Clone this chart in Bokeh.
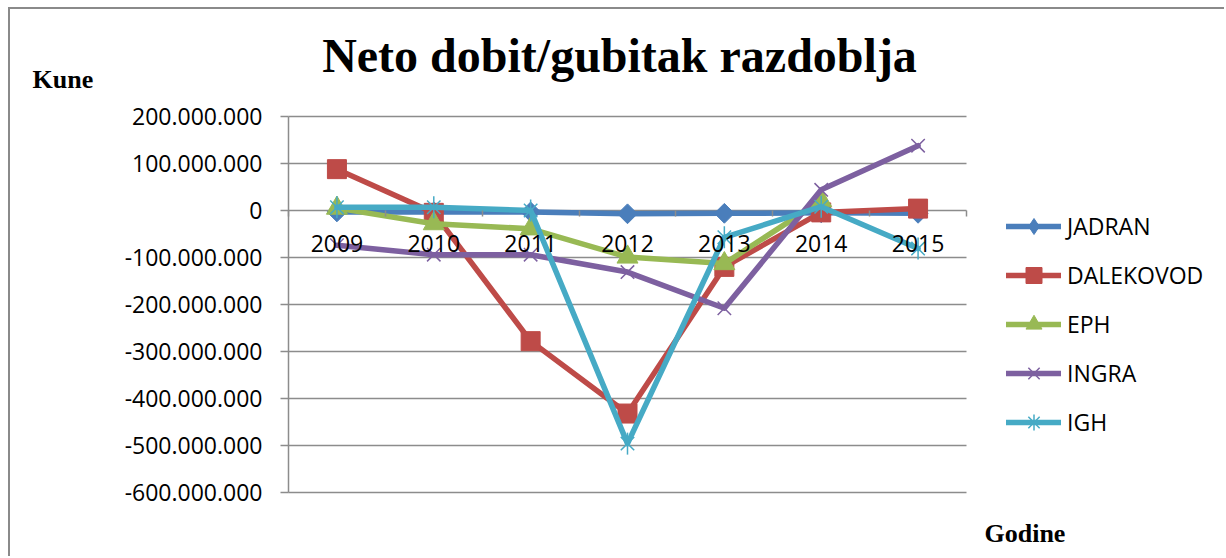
import math
from bokeh.plotting import figure
from bokeh.models import (Range1d, FixedTicker, Legend, LegendItem, Label,
                          ColumnDataSource)
from bokeh.embed import file_html
from bokeh.resources import INLINE

# ---------------- data ----------------
years = ["2009", "2010", "2011", "2012", "2013", "2014", "2015"]
jadran = [-3e6, -3e6, -3e6, -7e6, -6e6, -5e6, -6e6]
dalekovod = [88e6, -5e6, -278e6, -432e6, -120e6, -4e6, 4e6]
eph = [5e6, -28e6, -39e6, -99e6, -113e6, 21e6, float("nan")]
ingra = [-74e6, -94e6, -94e6, -131e6, -208e6, 44e6, 138e6]
igh = [7e6, 7e6, 0, -496e6, -57e6, 8e6, -81e6]
series_names = ["JADRAN", "DALEKOVOD", "EPH", "INGRA", "IGH"]
y_ticks = [-600000000, -500000000, -400000000, -300000000, -200000000,
           -100000000, 0, 100000000, 200000000]
title_text = "Neto dobit/gubitak razdoblja"
y_title = "Kune"
x_title = "Godine"

colors = ["#4A7EBB", "#BE4B48", "#98B954", "#7D60A0", "#46AAC5"]
series = [jadran, dalekovod, eph, ingra, igh]

# ---------------- layout geometry (page pixels) ----------------
OX, OY = 10, 9                 # canvas origin on the page (margin + border)
W, H = 1216, 549
PL, PR, PT, PB = 288, 966, 116, 492   # plot area of the chart
y_lo, y_hi = y_ticks[0], y_ticks[-1]
n = len(years)
bx = (PR - PL) / n                    # px per category band
by = (PB - PT) / (y_hi - y_lo)        # px per unit
x_start = -(PL - OX) / bx
x_end = n + (OX + W - PR) / bx
y_top = y_hi + (PT - OY) / by
y_bot = y_lo - (OY + H - PB) / by

p = figure(width=W, height=H, output_backend="svg", toolbar_location=None,
           x_range=Range1d(x_start, x_end), y_range=Range1d(y_bot, y_top),
           min_border_left=0, min_border_right=0, min_border_top=0,
           min_border_bottom=0, min_border=0, outline_line_color=None,
           background_fill_color="white", border_fill_color="white")
p.title.visible = False
p.styles = {"margin-left": "8px", "margin-top": "7px",
            "border-left": "2px solid #8a8a8a", "border-top": "2px solid #8a8a8a"}
p.xgrid.visible = False
p.ygrid.visible = False

xs = [i + 0.5 for i in range(n)]
GRID = "#8c8c8c"
FONT = "Open Sans"
FS = "23px"

# horizontal gridlines across the plot area only
p.segment(x0=[0] * len(y_ticks), x1=[n] * len(y_ticks), y0=y_ticks, y1=y_ticks,
          line_color=GRID, line_width=1.5)

# y axis
yax = p.yaxis[0]
yax.fixed_location = 0
yax.bounds = (y_lo, y_hi)
yax.ticker = FixedTicker(ticks=y_ticks, minor_ticks=[])
yax.major_label_overrides = {t: f"{t:,}".replace(",", ".") for t in y_ticks}
yax.axis_line_color = GRID
yax.axis_line_width = 1.5
yax.major_tick_line_color = GRID
yax.major_tick_line_width = 1.5
yax.major_tick_out = 8
yax.major_tick_in = 0
yax.minor_tick_line_color = None
yax.major_label_standoff = 18
yax.major_label_text_font = FONT
yax.major_label_text_font_size = FS
yax.major_label_text_color = "black"

# x axis at zero
xax = p.xaxis[0]
xax.fixed_location = 0
xax.bounds = (0, n)
xax.ticker = FixedTicker(ticks=xs, minor_ticks=list(range(n + 1)))
xax.major_label_overrides = {x: y for x, y in zip(xs, years)}
xax.axis_line_color = None
xax.major_tick_out = 0
xax.major_tick_in = 0
xax.major_tick_line_color = None
xax.minor_tick_line_color = GRID
xax.minor_tick_line_width = 1.5
xax.minor_tick_out = 6
xax.minor_tick_in = 0
xax.major_label_standoff = 18
xax.major_label_text_font = FONT
xax.major_label_text_font_size = FS
xax.major_label_text_color = "black"

# ---------------- series ----------------
# legend-only source: one undrawable point so the legend swatch gets its style
nodata = ColumnDataSource(dict(x=[float("nan")], y=[float("nan")]))
LW = 5.5
items = []
for name, vals, col in zip(series_names, series, colors):
    src = ColumnDataSource(dict(x=xs, y=vals))
    ln = p.line("x", "y", source=src, line_color=col, line_width=LW,
                line_join="round", line_cap="round")
    if name == "JADRAN":
        p.scatter("x", "y", source=src, marker="square", angle=math.pi / 4,
                  size=14, fill_color=col, line_color=col)
        leg = [ln, p.scatter("x", "y", source=nodata, marker="diamond", size=14,
                             fill_color=col, line_color=col)]
    elif name == "DALEKOVOD":
        leg = [ln, p.scatter("x", "y", source=src, marker="square", size=19,
                             fill_color=col, line_color=col)]
    elif name == "EPH":
        leg = [ln, p.scatter("x", "y", source=src, marker="triangle", size=21,
                             fill_color=col, line_color=col)]
    elif name == "INGRA":
        leg = [ln, p.scatter("x", "y", source=src, marker="x", size=19,
                             line_color=col, line_width=1.5)]
    else:
        sx = p.scatter("x", "y", source=src, marker="x", size=19,
                       line_color=col, line_width=1.5)
        p.scatter("x", "y", source=src, marker="dash", angle=math.pi / 2,
                  size=22, line_color=col, line_width=1.5)
        leg = [ln, sx, p.scatter("x", "y", source=nodata, marker="cross", size=18,
                                 line_color=col, line_width=1.5)]
    items.append(LegendItem(label=name, renderers=leg))

leg_top = 226 - 20
legend = Legend(items=items, location=(1006 - OX, (OY + H) - leg_top - 236),
                glyph_width=55, glyph_height=40,
                label_height=40, spacing=9, padding=0, margin=0, label_standoff=6,
                label_text_font=FONT, label_text_font_size=FS,
                label_text_color="black", background_fill_alpha=0,
                border_line_alpha=0)
p.add_layout(legend, "center")

# ---------------- texts ----------------
p.add_layout(Label(x=617 - OX, y=73 - OY - 20, x_units="canvas", y_units="canvas",
                   text=title_text, text_font="Liberation Serif",
                   text_font_style="bold", text_font_size="48px",
                   text_align="center", text_baseline="alphabetic",
                   text_color="black"))
p.add_layout(Label(x=30 - OX, y=89 - OY - 12, x_units="canvas", y_units="canvas",
                   text=y_title, text_font="Liberation Serif",
                   text_font_style="bold", text_font_size="26px",
                   text_align="left", text_baseline="alphabetic",
                   text_color="black"))
p.add_layout(Label(x=982 - OX, y=543 - OY - 12, x_units="canvas", y_units="canvas",
                   text=x_title, text_font="Liberation Serif",
                   text_font_style="bold", text_font_size="26px",
                   text_align="left", text_baseline="alphabetic",
                   text_color="black"))

open("out.html", "w").write(file_html(p, INLINE))
